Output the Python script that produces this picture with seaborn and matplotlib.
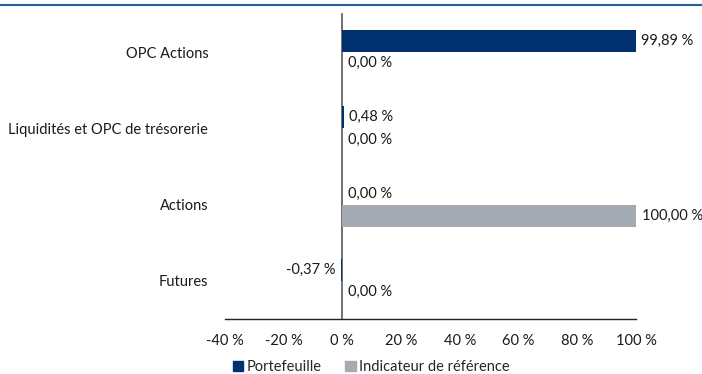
import matplotlib
matplotlib.use("Agg")
import matplotlib.pyplot as plt
import seaborn as sns
import pandas as pd
from matplotlib.lines import Line2D

categories = ["OPC Actions", "Liquidités et OPC de trésorerie", "Actions", "Futures"]
portefeuille = [99.89, 0.48, 0.00, -0.37]
indicateur = [0.00, 0.00, 100.00, 0.00]
series_names = ["Portefeuille", "Indicateur de référence"]
x_ticks = [-40, -20, 0, 20, 40, 60, 80, 100]

colors = ["#00306e", "#a5abb2"]
FS = 10.5

sns.set_theme(style="white")
plt.rcParams["font.family"] = ["Lato", "DejaVu Sans"]
plt.rcParams["font.size"] = FS

df = pd.DataFrame({
    "cat": categories * 2,
    "val": portefeuille + indicateur,
    "serie": [series_names[0]] * len(categories) + [series_names[1]] * len(categories),
})

fig = plt.figure(figsize=(7.02, 3.74), dpi=100)
ax = fig.add_axes([225 / 702, 1 - 319 / 374, (636 - 225) / 702, (319 - 14) / 374])

sns.barplot(data=df, y="cat", x="val", hue="serie", orient="h", palette=colors,
            width=0.58, ax=ax, legend=False, saturation=1, errorbar=None, linewidth=0)

ax.set_xlim(-40, 100)
ax.set_ylim(3.5, -0.5)
ax.set_xticks(x_ticks)
ax.set_xticklabels([f"{t} %" for t in x_ticks], color="#1a1a1a", fontsize=FS)
ax.set_xlabel("")
ax.set_ylabel("")

for s in ["top", "right"]:
    ax.spines[s].set_visible(False)
ax.spines["bottom"].set_color("#222222")
ax.spines["bottom"].set_linewidth(1.0)
ax.spines["left"].set_position(("data", 0))
ax.spines["left"].set_color("#666666")
ax.spines["left"].set_linewidth(1.3)
ax.spines["left"].set_zorder(0.5)
ax.set_yticks([-0.5, 0.5, 1.5, 2.5, 3.5])
ax.set_yticklabels([])
ax.tick_params(axis="y", length=5, width=1, color="#444444", direction="out")
ax.tick_params(axis="x", length=5, width=1, color="#222222", direction="out", pad=6)

sec = ax.secondary_yaxis("left")
sec.set_yticks(range(len(categories)))
sec.set_yticklabels(categories, color="#1a1a1a", fontsize=FS)
sec.spines["left"].set_visible(False)
sec.tick_params(length=0, pad=12)

for cont in ax.containers:
    for bar in cont:
        v = bar.get_width()
        y = bar.get_y() + bar.get_height() / 2
        txt = f"{v:.2f}".replace(".", ",") + " %"
        if v < 0:
            ax.annotate(txt, (v, y), xytext=(-4, 0), textcoords="offset points",
                        ha="right", va="center", color="#1a1a1a", fontsize=FS)
        else:
            ax.annotate(txt, (v, y), xytext=(4, 0), textcoords="offset points",
                        ha="left", va="center", color="#1a1a1a", fontsize=FS)

handles = [plt.Rectangle((0, 0), 1, 1, color=c) for c in colors]
fig.legend(handles, series_names, loc="lower left", bbox_to_anchor=(220 / 702, -0.035),
           ncol=2, frameon=False, handlelength=0.7, handleheight=0.7,
           handletextpad=0.25, columnspacing=1.6, fontsize=FS)

fig.add_artist(Line2D([0, 1], [1 - 5 / 374, 1 - 5 / 374], color="#1f5f9c", linewidth=1.5,
                      transform=fig.transFigure))

fig.savefig("out.png", dpi=100)
